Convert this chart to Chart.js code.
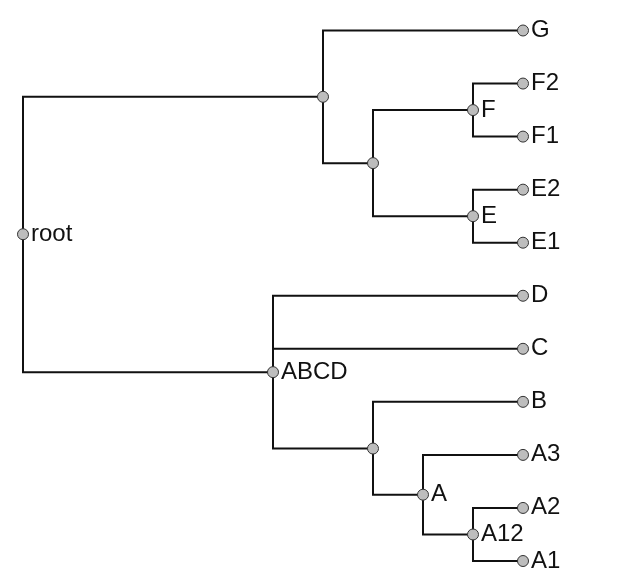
<!DOCTYPE html>
<html>
<head>
<meta charset="utf-8">
<script src="https://cdn.jsdelivr.net/npm/chart.js@4/dist/chart.umd.min.js"></script>
<style>
  html, body { margin: 0; padding: 0; background: #fff; }
  #wrap { width: 638px; height: 584px; }
</style>
</head>
<body>
<div id="wrap"><canvas id="tree" width="638" height="584"></canvas></div>
<script>
// tree nodes: label, parent index, depth (x) and row (y, leaf rows are 0..10)
const nodeLabels  = ["root", "", "", "G", "F", "F2", "F1", "E", "E2", "E1", "ABCD", "D", "C", "", "B", "A", "A3", "A12", "A2", "A1"];
const nodeParents = [-1, 0, 1, 1, 2, 4, 4, 2, 7, 7, 0, 10, 10, 10, 13, 13, 15, 15, 17, 17];
const nodeDepth   = [0, 6, 7, 10, 9, 10, 10, 9, 10, 10, 5, 10, 10, 7, 10, 8, 10, 9, 10, 10];
const nodeRow     = [3.84, 1.25, 2.5, 0, 1.5, 1, 2, 3.5, 3, 4, 6.44, 5, 6, 7.88, 7, 8.75, 8, 9.5, 9, 10];

document.addEventListener("DOMContentLoaded", function () {
  const nodePoints = nodeLabels.map(function (label, i) {
    return { x: nodeDepth[i], y: nodeRow[i] };
  });

  // elbow connectors: parent -> down/up to child row -> across to child
  const edgePoints = [];
  nodeParents.forEach(function (p, i) {
    if (p < 0) return;
    edgePoints.push({ x: nodeDepth[p], y: nodeRow[p] });
    edgePoints.push({ x: nodeDepth[p], y: nodeRow[i] });
    edgePoints.push({ x: nodeDepth[i], y: nodeRow[i] });
    edgePoints.push({ x: nodeDepth[i], y: null });
  });

  const nodeLabelPlugin = {
    id: "nodeLabels",
    afterDatasetsDraw(chart) {
      const ctx = chart.ctx;
      const meta = chart.getDatasetMeta(0);
      ctx.save();
      ctx.font = '24px "Liberation Sans", Arial, Helvetica, sans-serif';
      ctx.fillStyle = "#111";
      ctx.textBaseline = "alphabetic";
      ctx.textAlign = "left";
      meta.data.forEach(function (pt, i) {
        if (!nodeLabels[i]) return;
        ctx.fillText(nodeLabels[i], pt.x + 8, pt.y + 6.5);
      });
      ctx.restore();
    },
  };

  new Chart(document.getElementById("tree").getContext("2d"), {
    type: "scatter",
    data: {
      datasets: [
        {
          label: "nodes",
          data: nodePoints,
          pointRadius: 5.5,
          pointBackgroundColor: "#bdbdbd",
          pointBorderColor: "#333",
          pointBorderWidth: 1,
          showLine: false,
          clip: false,
        },
        {
          label: "edges",
          data: edgePoints,
          showLine: true,
          spanGaps: false,
          pointRadius: 0,
          borderColor: "#111",
          borderWidth: 2,
          tension: 0,
          clip: false,
        },
      ],
    },
    options: {
      responsive: false,
      animation: false,
      devicePixelRatio: 1,
      layout: { padding: { left: 23, right: 115, top: 30.5, bottom: 23 } },
      plugins: {
        legend: { display: false },
        tooltip: { enabled: false },
      },
      scales: {
        x: { type: "linear", min: 0, max: 10, display: false },
        y: { type: "linear", min: 0, max: 10, reverse: true, display: false },
      },
    },
    plugins: [nodeLabelPlugin],
  });
});
</script>
</body>
</html>
